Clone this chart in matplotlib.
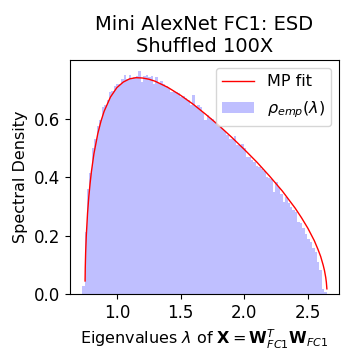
import numpy as np
import matplotlib
matplotlib.use("Agg")
import matplotlib.pyplot as plt

# histogram range (min / max eigenvalue) and bar heights
lam_min = 0.727
lam_max = 2.648
esd_heights = [
    0.027, 0.213, 0.360, 0.413, 0.500, 0.530, 0.575, 0.595, 0.640, 0.645,
    0.665, 0.690, 0.695, 0.710, 0.718, 0.720, 0.735, 0.748, 0.735, 0.748,
    0.737, 0.743, 0.745, 0.762, 0.726, 0.746, 0.749, 0.743, 0.745, 0.720,
    0.741, 0.722, 0.729, 0.718, 0.711, 0.705, 0.690, 0.694, 0.692, 0.686,
    0.675, 0.677, 0.672, 0.663, 0.646, 0.680, 0.643, 0.645, 0.640, 0.623,
    0.595, 0.612, 0.601, 0.598, 0.589, 0.580, 0.572, 0.566, 0.557, 0.544,
    0.532, 0.530, 0.540, 0.509, 0.509, 0.512, 0.498, 0.469, 0.469, 0.458,
    0.453, 0.438, 0.433, 0.428, 0.420, 0.401, 0.398, 0.392, 0.350, 0.384,
    0.365, 0.344, 0.316, 0.333, 0.310, 0.299, 0.287, 0.282, 0.247, 0.242,
    0.225, 0.207, 0.190, 0.179, 0.156, 0.145, 0.111, 0.082, 0.019, 0.008,
]

# MP fit curve
mp_lam = [0.7505, 0.752, 0.755, 0.76, 0.77, 0.78, 0.79, 0.80, 0.82, 0.85,
          0.875, 0.90, 0.95, 1.00, 1.05, 1.10, 1.15, 1.20, 1.25, 1.30,
          1.40, 1.50, 1.60, 1.70, 1.80, 1.90, 2.00, 2.10, 2.20, 2.30,
          2.40, 2.45, 2.50, 2.55, 2.58, 2.60, 2.62, 2.63, 2.64, 2.645, 2.649]
mp_rho = [0.045, 0.090, 0.142, 0.199, 0.277, 0.334, 0.379, 0.418, 0.480, 0.548,
          0.591, 0.625, 0.674, 0.706, 0.725, 0.736, 0.740, 0.739, 0.735, 0.728,
          0.707, 0.680, 0.649, 0.614, 0.577, 0.537, 0.495, 0.451, 0.403, 0.352,
          0.294, 0.261, 0.225, 0.183, 0.152, 0.129, 0.099, 0.081, 0.057, 0.040, 0.018]

fig = plt.figure(figsize=(3.6, 3.6), dpi=100)
ax = fig.add_axes([0.194, 0.183, 0.748, 0.650])

edges = np.linspace(lam_min, lam_max, len(esd_heights) + 1)
ax.bar(edges[:-1], esd_heights, width=np.diff(edges), align='edge',
       color='blue', alpha=0.25, linewidth=0, label=r'$\rho_{emp}(\lambda)$')
ax.plot(mp_lam, mp_rho, color='r', linewidth=1, label='MP fit')

ax.set_title('Mini AlexNet FC1: ESD\nShuffled 100X', fontsize=14)
ax.set_xlabel(r'Eigenvalues $\lambda$ of $\mathbf{X} = \mathbf{W}_{FC1}^{T}\mathbf{W}_{FC1}$', fontsize=11.5)
ax.set_ylabel('Spectral Density', fontsize=11.5)
ax.tick_params(labelsize=12)
ax.set_xticks([1.0, 1.5, 2.0, 2.5])
ax.set_yticks([0.0, 0.2, 0.4, 0.6])
ax.legend(loc='upper right', fontsize=11.5, labelspacing=0.6)

fig.savefig('out.png', dpi=100)
